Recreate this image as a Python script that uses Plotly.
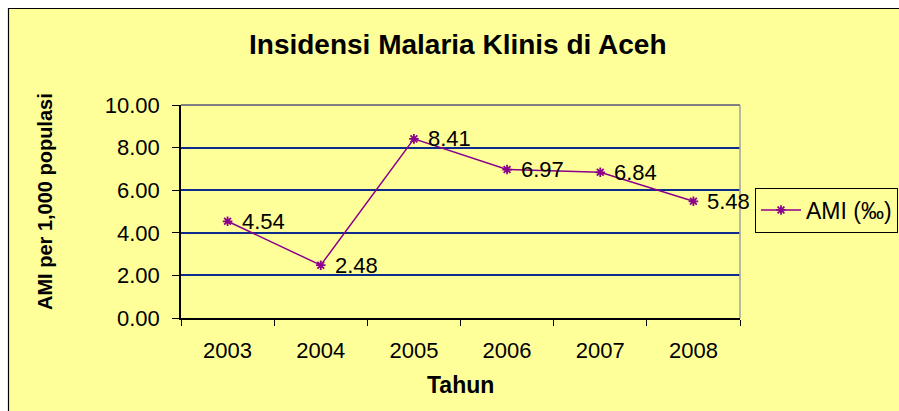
import plotly.graph_objects as go

years = ["2003", "2004", "2005", "2006", "2007", "2008"]
ami = [4.54, 2.48, 8.41, 6.97, 6.84, 5.48]
ami_labels = ["4.54", "2.48", "8.41", "6.97", "6.84", "5.48"]
series_name = "AMI (‰)"
y_ticks = [0, 2, 4, 6, 8, 10]

W, H = 899, 411
L, R, T, B = 181, 899 - 740, 105, 411 - 318
pw, ph = W - L - R, H - T - B

def px(x):
    return (x - L) / pw

def py(y):
    return (H - B - y) / ph

FONT = "Liberation Sans, Arial, sans-serif"
purple = "#8B008B"

fig = go.Figure()
fig.add_trace(go.Scatter(
    x=years, y=ami, mode="lines+markers", name=series_name,
    line=dict(color=purple, width=1.5),
    marker=dict(symbol="asterisk-open", size=8, color=purple,
                line=dict(color=purple, width=1.8)),
    cliponaxis=False,
))

annotations = [
    dict(x=i, y=yv, xref="x", yref="y", text=t, showarrow=False,
         xanchor="left", yanchor="middle", xshift=12, yshift=0,
         font=dict(family=FONT, size=22, color="black"))
    for i, (yv, t) in enumerate(zip(ami, ami_labels))
]
annotations += [
    dict(text="<b>Insidensi Malaria Klinis di Aceh</b>", xref="paper", yref="paper",
         x=px(458), y=py(44), xanchor="center", yanchor="middle", showarrow=False,
         font=dict(family=FONT, size=28, color="black")),
    dict(text="<b>AMI per 1,000 populasi</b>", xref="paper", yref="paper",
         x=px(45), y=py(202), xanchor="center", yanchor="middle", showarrow=False,
         textangle=-90, font=dict(family=FONT, size=20, color="black")),
    dict(text="<b>Tahun</b>", xref="paper", yref="paper",
         x=px(460), y=py(385), xanchor="center", yanchor="middle", showarrow=False,
         font=dict(family=FONT, size=23, color="black")),
]

fig.update_layout(
    width=W, height=H,
    margin=dict(l=L, r=R, t=T, b=B, autoexpand=False),
    paper_bgcolor="white",
    plot_bgcolor="#33CCCC",
    font=dict(family=FONT, color="black"),
    showlegend=True,
    legend=dict(
        x=px(755), y=py(210), xanchor="left", yanchor="middle",
        bgcolor="#FFFF99", bordercolor="black", borderwidth=1,
        font=dict(family=FONT, size=23, color="black"),
        itemwidth=40,
    ),
    xaxis=dict(
        type="category", range=[-0.5, 5.5],
        showline=True, linecolor="black", linewidth=1.5,
        ticks="outside", ticklen=6, tickcolor="black", tickwidth=1,
        tickson="boundaries", showgrid=False,
        tickfont=dict(family=FONT, size=22, color="black"),
        ticklabelstandoff=12,
    ),
    yaxis=dict(
        range=[0, 10], tickvals=y_ticks, tickformat=".2f",
        showline=True, linecolor="black", linewidth=1.5,
        ticks="outside", ticklen=7, tickcolor="black", tickwidth=1,
        showgrid=True, gridcolor="#0B2C8C", gridwidth=1.5,
        zeroline=False,
        tickfont=dict(family=FONT, size=22, color="black"),
        ticklabelstandoff=8,
    ),
    shapes=[
        dict(type="rect", xref="paper", yref="paper",
             x0=px(8.5), x1=px(940), y0=py(440), y1=py(8.5),
             fillcolor="#FFFF99", line=dict(color="black", width=1.2),
             layer="below"),
        dict(type="line", xref="paper", yref="paper",
             x0=0, x1=1, y0=1, y1=1, line=dict(color="#808080", width=2)),
        dict(type="line", xref="paper", yref="paper",
             x0=1, x1=1, y0=0, y1=1, line=dict(color="#A0A0A0", width=1.5)),
    ],
    annotations=annotations,
)

fig.write_html(
    "out.html",
    config={"displayModeBar": False},
    post_script="document.body.style.margin='0px';document.body.style.overflow='hidden';",
)
